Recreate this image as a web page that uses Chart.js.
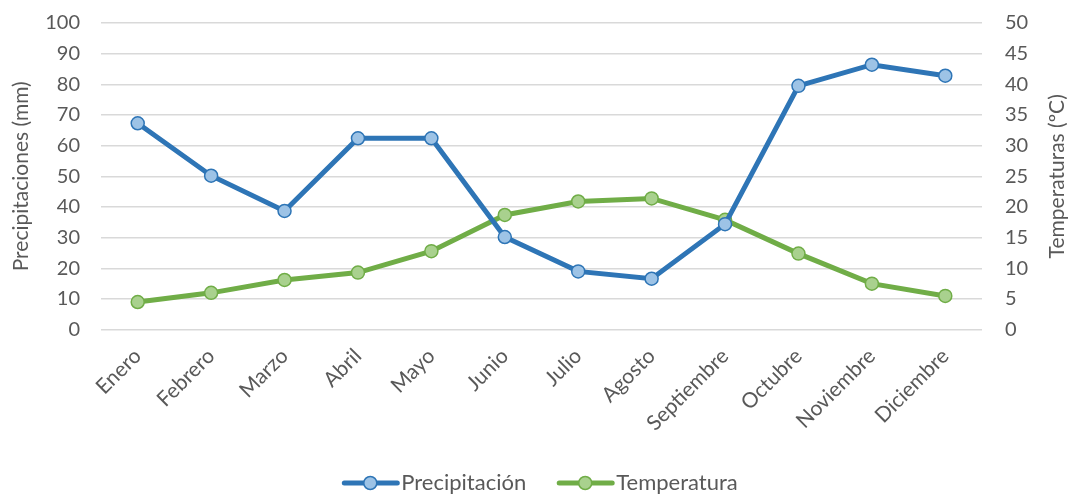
<!DOCTYPE html>
<html>
<head>
<meta charset="utf-8">
<script src="https://cdn.jsdelivr.net/npm/chart.js@4/dist/chart.umd.min.js"></script>
<style>
  html, body { margin: 0; padding: 0; background: #fff; }
  #wrap { width: 1070px; height: 495px; position: relative; }
</style>
</head>
<body>
<div id="wrap"><canvas id="graph"></canvas></div>
<script>
const months = ['Enero', 'Febrero', 'Marzo', 'Abril', 'Mayo', 'Junio', 'Julio', 'Agosto', 'Septiembre', 'Octubre', 'Noviembre', 'Diciembre'];
const precipitacion = [67.3, 50.2, 38.7, 62.4, 62.4, 30.2, 19, 16.6, 34.4, 79.5, 86.4, 82.8];
const temperatura = [4.5, 6, 8.1, 9.3, 12.8, 18.7, 20.9, 21.4, 17.9, 12.4, 7.5, 5.5];

const textColor = '#595959';
const fontFamily = 'Lato, "Open Sans", sans-serif';
const rightTitle = 'Temperaturas (ºC)';

// legend drawn by hand: line with a circle in the middle, like the office style
const lineLegend = {
    id: 'lineLegend',
    afterDraw(chart) {
        const ctx = chart.ctx;
        const y = 483;
        const items = chart.data.datasets;
        ctx.save();
        ctx.font = '22px ' + fontFamily;
        ctx.textBaseline = 'middle';
        let widths = items.map(d => 59 + ctx.measureText(d.label).width);
        let gap = 31;
        let total = widths.reduce((a, b) => a + b, 0) + gap * (items.length - 1);
        let x = 540 - total / 2;
        items.forEach((d, i) => {
            ctx.strokeStyle = d.borderColor;
            ctx.lineWidth = 5;
            ctx.lineCap = 'round';
            ctx.beginPath();
            ctx.moveTo(x + 2, y);
            ctx.lineTo(x + 55, y);
            ctx.stroke();
            ctx.beginPath();
            ctx.arc(x + 28, y, 6.5, 0, Math.PI * 2);
            ctx.fillStyle = d.pointBackgroundColor;
            ctx.fill();
            ctx.lineWidth = 1.5;
            ctx.stroke();
            ctx.fillStyle = textColor;
            ctx.fillText(d.label, x + 59, y);
            x += widths[i] + gap;
        });
        ctx.restore();
    }
};

// right axis title reads bottom to top in the original, chart.js turns it the other way
const rightAxisTitle = {
    id: 'rightAxisTitle',
    afterDraw(chart) {
        const s = chart.scales.y2;
        const ctx = chart.ctx;
        ctx.save();
        ctx.translate(1057, (s.top + s.bottom) / 2);
        ctx.rotate(-Math.PI / 2);
        ctx.font = '21px ' + fontFamily;
        ctx.fillStyle = textColor;
        ctx.textAlign = 'center';
        ctx.textBaseline = 'middle';
        ctx.fillText(rightTitle, 0, 0);
        ctx.restore();
    }
};

// tick padding would otherwise push the plot down from the top
function noVerticalPadding(scale) {
    scale.paddingTop = 0;
    scale.paddingBottom = 0;
}

new Chart(document.querySelector('#graph').getContext('2d'), {
    type: 'line',
    data: {
        labels: months,
        datasets: [
            {
                label: 'Precipitación',
                data: precipitacion,
                yAxisID: 'y',
                borderColor: '#2e75b6',
                backgroundColor: '#2e75b6',
                pointBackgroundColor: '#9dc3e6',
                pointBorderColor: '#2e75b6',
                borderWidth: 5,
                pointRadius: 6.5,
                pointBorderWidth: 1.5,
                tension: 0
            },
            {
                label: 'Temperatura',
                data: temperatura,
                yAxisID: 'y2',
                borderColor: '#70ad47',
                backgroundColor: '#70ad47',
                pointBackgroundColor: '#a9d18e',
                pointBorderColor: '#70ad47',
                borderWidth: 5,
                pointRadius: 6.5,
                pointBorderWidth: 1.5,
                tension: 0
            }
        ]
    },
    options: {
        responsive: true,
        maintainAspectRatio: false,
        animation: false,
        layout: { padding: { left: 0, right: 0, top: 23, bottom: 53 } },
        scales: {
            x: {
                offset: true,
                grid: { display: false },
                border: { display: false },
                ticks: {
                    color: textColor,
                    font: { family: fontFamily, size: 21 },
                    minRotation: 45,
                    maxRotation: 45,
                    padding: 6
                }
            },
            y: {
                position: 'left',
                min: 0,
                max: 100,
                afterFit(scale) { scale.width = 101; noVerticalPadding(scale); },
                ticks: { stepSize: 10, color: textColor, font: { family: fontFamily, size: 20 }, padding: 21 },
                grid: { color: '#d9d9d9', lineWidth: 1.5, drawTicks: false },
                border: { display: false },
                title: { display: true, text: 'Precipitaciones (mm)', color: textColor, font: { family: fontFamily, size: 21 }, padding: { top: 9, bottom: 0 } }
            },
            y2: {
                position: 'right',
                min: 0,
                max: 50,
                afterFit(scale) { scale.width = 88; noVerticalPadding(scale); },
                ticks: { stepSize: 5, color: textColor, font: { family: fontFamily, size: 20 }, padding: 23 },
                grid: { display: false, drawTicks: false },
                border: { display: false }
            }
        },
        plugins: {
            legend: { display: false },
            tooltip: { enabled: false }
        }
    },
    plugins: [lineLegend, rightAxisTitle]
});
</script>
</body>
</html>
